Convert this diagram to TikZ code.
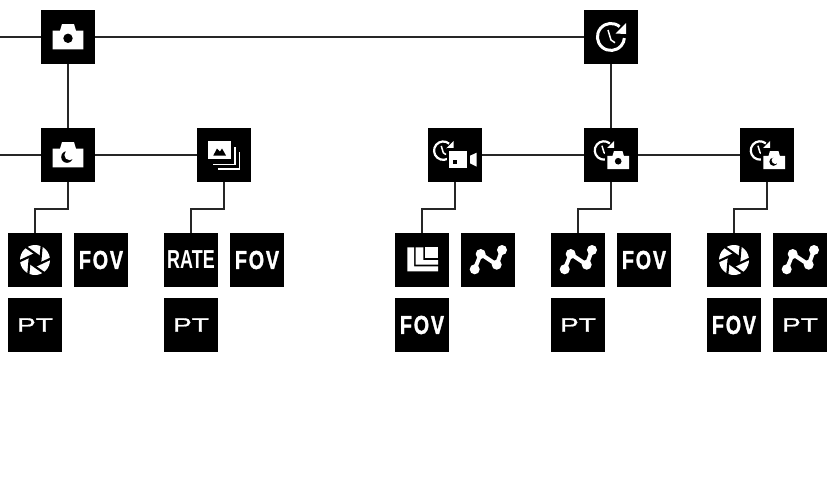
\documentclass[tikz,border=0pt]{standalone}
\usepackage{fontspec}
\setmainfont{Liberation Sans}
\newfontfamily\spacedfont[LetterSpace=9,BoldFeatures={FakeBold=1.5}]{Liberation Sans}
\newfontfamily\widefont[FakeBold=0.8]{Liberation Sans}
\usetikzlibrary{calc}
\newcommand{\camerabody}{\fill[white] (-15.3,-12.3) -- (-15.3,6.3) -- (-8,6.3) -- (-6,13) -- (6,13) -- (8,6.3) -- (15.3,6.3) -- (15.3,-12.3) -- cycle;}
\newcommand{\fovlabel}{\scalebox{0.76}[1]{\spacedfont FOV}}
\newcommand{\ptlabel}{\scalebox{1.44}[1]{\fontsize{19.5}{19.5}\selectfont\mdseries\widefont PT}}
\tikzset{
	x=1pt, y=1pt,
	iconbox/.style={fill=black, draw=none, minimum size=54pt, inner sep=0pt, text=white},
	line/.style={draw=black!85, line width=1.5pt},
	lettering/.style={iconbox, font=\bfseries\fontsize{26}{26}\selectfont},
	pics/camerahole/.style={code={
		\camerabody
		\fill[black] (0,-1.3) circle (4.7);
	}},
	pics/cameramoon/.style={code={
		\camerabody
		\fill[black] (-1,-2) circle (5.8);
		\fill[white] (1.6,0) circle (5.2);
	}},
	pics/timer/.style={code={
		\draw[white, line width=#1] (8.6,10.4) arc[start angle=50, end angle=355, radius=13.5];
		\fill[white] (15,14) -- (15,3) -- (4.5,3.5) -- cycle;
		\draw[white, line width=1.5pt] (-3,7) -- (0,-3) -- (4,-5.7);
	}},
	pics/stack/.style={code={
		\fill[white] (-15.7,-4.3) rectangle (6.7,14.3);
		\fill[black] (-10.7,-0.5) -- (-7,6.5) -- (-4,3.5) -- (-2,6.5) -- (2,-0.5) -- cycle;
		\draw[white, line width=1.8pt] (-10.7,-9.5) -- (11.2,-9.5) -- (11.2,8.5);
		\draw[white, line width=1.8pt] (-5.7,-14.2) -- (15.4,-14.2) -- (15.4,3.5);
	}},
	pics/aperture/.style={code={
		\fill[white] (0,0) circle (15);
		\fill[black] (43:6.5) -- (103:6.5) -- (163:6.5) -- (223:6.5) -- (283:6.5) -- (343:6.5) -- cycle;
		\foreach \a in {43,103,...,343} {
			\draw[black, line width=2.2pt] (\a:5.5) -- (\a+82:15.8);
		}
	}},
	pics/curve/.style={code={
		\draw[white, line width=4pt] (-13.3,-9.3) -- (-7.3,6) -- (8.7,-4.7) -- (14,10);
		\foreach \c in {(-13.3,-9.3),(-7.3,6),(8.7,-4.7),(14,10)} {
			\fill[white] \c circle (5);
		}
	}},
	pics/layers/.style={code={
		\fill[white] (-14.7,12.7) -- (-14.7,-11.3) -- (16,-11.3) -- (16,-6.3) -- (-8,-6.3) -- (-8,12.7) -- cycle;
		\fill[white] (-6.3,12.7) -- (-6.3,-4.7) -- (16,-4.7) -- (16,0) -- (1.3,0) -- (1.3,12.7) -- cycle;
		\fill[white] (3,12.7) rectangle (16,2);
	}},
}
\begin{document}
\begin{tikzpicture}
	\useasboundingbox (0,0) rectangle (833,-483);

	% top row
	\node[iconbox] (photo) at (68,-37) {};
	\node[iconbox] (timer) at (611,-37) {};
	\pic at (photo) {camerahole};
	\pic at (timer) {timer=3pt};

	% second row
	\node[iconbox] (night) at (68,-155) {};
	\node[iconbox] (burst) at (224,-155) {};
	\node[iconbox] (timevideo) at (455,-155) {};
	\node[iconbox] (timephoto) at (611,-155) {};
	\node[iconbox] (timenight) at (767,-155) {};
	\pic at (night) {cameramoon};
	\pic at (burst) {stack};

	\pic[scale=0.68] at ($(timevideo)+(-11.7,4.3)$) {timer=2.2pt};
	\fill[black] (446.5,-148) rectangle (480,-171);
	\fill[white] (449,-150.7) rectangle (467.3,-168.3);
	\fill[black] (453,-160.3) rectangle (457,-164.3);
	\fill[white] (470,-155.7) -- (476.7,-152.7) -- (476.7,-166.7) -- (470,-163.3) -- cycle;

	\pic[scale=0.68] at ($(timephoto)+(-7,4.5)$) {timer=2.2pt};
	\fill[black] (605,-147.5) rectangle (632,-172);
	\pic[scale=0.71] at ($(timephoto)+(7.2,-5.3)$) {camerahole};

	\pic[scale=0.68] at ($(timenight)+(-7,4.5)$) {timer=2.2pt};
	\fill[black] (761,-147.5) rectangle (788,-172);
	\pic[scale=0.71] at ($(timenight)+(7.2,-5.3)$) {cameramoon};

	% settings under each mode
	\node[iconbox] (nightiris) at (35,-260) {};
	\node[lettering] (nightfov) at (101,-260) {\fovlabel};
	\node[lettering] (nightpt) at (35,-325) {\ptlabel};
	\pic at (nightiris) {aperture};

	\node[lettering] (burstrate) at (191,-260) {\scalebox{0.69}[1]{RATE}};
	\node[lettering] (burstfov) at (257,-260) {\fovlabel};
	\node[lettering] (burstpt) at (191,-325) {\ptlabel};

	\node[iconbox] (videolayers) at (422,-260) {};
	\node[iconbox] (videocurve) at (488,-260) {};
	\node[lettering] (videofov) at (422,-325) {\fovlabel};
	\pic at (videolayers) {layers};
	\pic at (videocurve) {curve};

	\node[iconbox] (photocurve) at (578,-260) {};
	\node[lettering] (photofov) at (644,-260) {\fovlabel};
	\node[lettering] (photopt) at (578,-325) {\ptlabel};
	\pic at (photocurve) {curve};

	\node[iconbox] (lowiris) at (734,-260) {};
	\node[iconbox] (lowcurve) at (800,-260) {};
	\node[lettering] (lowfov) at (734,-325) {\fovlabel};
	\node[lettering] (lowpt) at (800,-325) {\ptlabel};
	\pic at (lowiris) {aperture};
	\pic at (lowcurve) {curve};

	% connectors
	\coordinate (offtop) at (0,-37);
	\coordinate (offmid) at (0,-155);
	\draw[line] (offtop) -- (photo);
	\draw[line] (photo) -- (timer);
	\draw[line] (photo) -- (night);
	\draw[line] (timer) -- (timephoto);
	\draw[line] (offmid) -- (night);
	\draw[line] (night) -- (burst);
	\draw[line] (timevideo) -- (timephoto);
	\draw[line] (timephoto) -- (timenight);

	\draw[line] (night.south) |- ++(-33,-27) -| (nightiris.north);
	\draw[line] (burst.south) |- ++(-33,-27) -| (burstrate.north);
	\draw[line] (timevideo.south) |- ++(-33,-27) -| (videolayers.north);
	\draw[line] (timephoto.south) |- ++(-33,-27) -| (photocurve.north);
	\draw[line] (timenight.south) |- ++(-33,-27) -| (lowiris.north);
\end{tikzpicture}
\end{document}
